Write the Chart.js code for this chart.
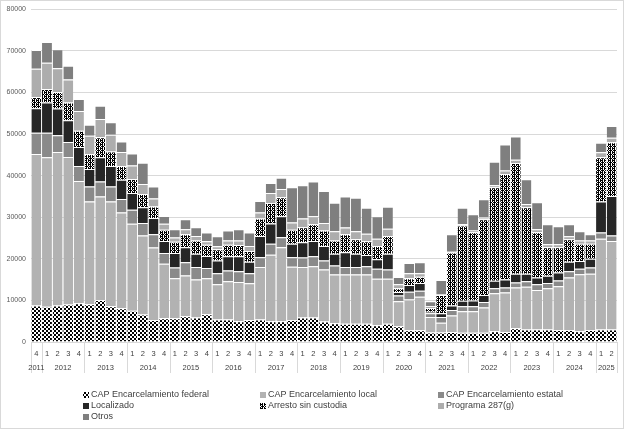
<!DOCTYPE html>
<html lang="es">
<head>
<meta charset="UTF-8">
<title>Detenciones por tipo de arresto</title>
<style>
    body { margin: 0; background: #fff; }
    .chart-box { width: 624px; height: 429px; position: relative; }
</style>
</head>
<body>
<div class="chart-box"><canvas id="myChart"></canvas></div>

<script src="https://cdn.jsdelivr.net/npm/chart.js"></script>
<script>
// trimestre de cada barra y su año
var quarters = ['4',
    '1','2','3','4', '1','2','3','4', '1','2','3','4', '1','2','3','4',
    '1','2','3','4', '1','2','3','4', '1','2','3','4', '1','2','3','4',
    '1','2','3','4', '1','2','3','4', '1','2','3','4', '1','2','3','4',
    '1','2','3','4', '1','2'];
var years = ['2011',
    '2012','2012','2012','2012', '2013','2013','2013','2013', '2014','2014','2014','2014',
    '2015','2015','2015','2015', '2016','2016','2016','2016', '2017','2017','2017','2017',
    '2018','2018','2018','2018', '2019','2019','2019','2019', '2020','2020','2020','2020',
    '2021','2021','2021','2021', '2022','2022','2022','2022', '2023','2023','2023','2023',
    '2024','2024','2024','2024', '2025','2025'];

var capFederal = [8800,
    8500,8800,9000,9300, 9100,10100,8600,8100, 7500,6600,5300,5700,
    5700,6200,5900,6700, 5400,5400,5000,5300, 5400,5000,5000,5300,
    5900,5900,4900,4500, 4400,4400,4400,4000, 4400,3800,2800,2800,
    2300,2300,2400,2200, 2200,2200,2600,2400, 3300,3000,3000,3000,
    2900,2900,2600,2900, 3000,3000];
var capLocal = [36400,
    35900,36900,35500,29400, 24700,24900,25200,23000, 20900,19000,17400,13100,
    9600,9800,9100,8600, 8500,9200,9400,8800, 12600,16000,17800,12800,
    12100,12300,12500,11700, 11800,11800,11800,11200, 10800,6000,7400,8100,
    3700,2300,4000,5200, 5200,6100,9100,9500, 9800,10300,9500,9900,
    10500,12600,13700,13500, 21800,21300];
var capEstatal = [5100,
    5900,4000,3600,3600, 3600,3600,3600,3300, 3400,3000,3200,2600,
    2600,3200,3000,2500, 2600,2600,2600,2400, 2400,2600,2400,2300,
    2300,2400,2200,2200, 1800,1800,2000,2400, 2200,1400,1900,1400,
    900,1400,1300,1200, 1200,1300,1200,1200, 1200,1300,1400,1300,
    1400,1500,1300,1500, 1500,1300];
var localizado = [5900,
    7300,6400,5200,4600, 4200,5800,4900,4600, 4000,3800,3900,2900,
    3500,3600,3200,2900, 3100,3400,3600,2800, 5100,4900,5000,3200,
    3700,3700,3500,2800, 3600,3200,2700,2300, 3800,800,1600,1900,
    400,900,1100,1300, 1400,1700,1800,1900, 2100,1800,1600,1700,
    1900,2300,1900,2100, 7500,9500];
var arrestoSinCustodia = [2700,
    3200,4000,4300,3900, 3600,4800,3500,3300, 3400,3200,2800,2700,
    2700,3100,3200,2700, 2700,2800,2700,2600, 4200,4900,4600,3400,
    3600,4000,3700,3200, 4300,3500,3300,3200, 4300,900,1600,1500,
    900,4400,12700,18100, 16400,18200,22500,25400, 26600,16000,10900,6900,
    6100,5400,4100,3600, 10600,12900];
var programa287g = [6800,
    6300,5700,5500,4700, 4400,4400,4000,3400, 3200,2400,1900,1400,
    1000,1200,1100,800, 700,1000,1100,1200, 1400,2400,2000,1700,
    2100,1900,1800,2200, 1600,1900,1800,1700, 1700,1000,1200,800,
    400,100,200,300, 400,400,500,800, 800,800,700,700,
    700,700,800,800, 1200,1100];
var otros = [4500,
    5000,4600,3300,2900, 2600,3200,3000,2500, 2900,5100,2900,1900,
    2000,2400,2100,2100, 2400,2400,2700,3200, 2800,2400,2700,8500,
    8000,8400,7700,6900, 7500,8100,6300,5400, 5300,1700,2500,2700,
    1200,3500,4200,4000, 3900,4400,5600,6300, 5600,5900,6500,4800,
    4300,2900,2200,1500, 2300,2800];

var yTicks = [0, 10000, 20000, 30000, 40000, 50000, 60000, 70000, 80000];

// tramas blanco y negro como en Excel
function makePattern(rows) {
    var c = document.createElement('canvas');
    c.width = rows[0].length;
    c.height = rows.length;
    var g = c.getContext('2d');
    g.fillStyle = '#ffffff';
    g.fillRect(0, 0, c.width, c.height);
    g.fillStyle = '#000000';
    rows.forEach(function(r, y) {
        for (var x = 0; x < r.length; x++) {
            if (r[x] === 'x') g.fillRect(x, y, 1, 1);
        }
    });
    return g.createPattern(c, 'repeat');
}
var federalFill = makePattern(['xx..', 'xx..', '..xx', '..xx']);
var arrestoFill = makePattern(['xxx.', 'x.x.', '.xxx', 'x.x.']);

var series = [
    { label: 'CAP Encarcelamiento federal', data: capFederal, color: federalFill },
    { label: 'CAP Encarcelamiento local', data: capLocal, color: '#b2b2b2' },
    { label: 'CAP Encarcelamiento estatal', data: capEstatal, color: '#8a8a8a' },
    { label: 'Localizado', data: localizado, color: '#262626' },
    { label: 'Arresto sin custodia', data: arrestoSinCustodia, color: arrestoFill },
    { label: 'Programa 287(g)', data: programa287g, color: '#adadad' },
    { label: 'Otros', data: otros, color: '#7f7f7f' }
];

// años bajo los trimestres + separadores + leyenda
var extrasPlugin = {
    id: 'extras',
    afterDraw: function(chart) {
        var ctx = chart.ctx;
        var xs = chart.scales.x;
        var bottom = chart.chartArea.bottom;
        var half = (xs.getPixelForValue(1) - xs.getPixelForValue(0)) / 2;

        // grupos de años
        var groups = [];
        var start = 0;
        for (var i = 1; i <= years.length; i++) {
            if (i === years.length || years[i] !== years[start]) {
                groups.push({
                    label: years[start],
                    x0: xs.getPixelForValue(start) - half,
                    x1: xs.getPixelForValue(i - 1) + half
                });
                start = i;
            }
        }

        ctx.save();
        ctx.strokeStyle = '#d9d9d9';
        ctx.lineWidth = 1;
        var edges = groups.map(function(g) { return g.x0; });
        edges.push(groups[groups.length - 1].x1);
        edges.forEach(function(x) {
            ctx.beginPath();
            ctx.moveTo(Math.round(x) + 0.5, bottom);
            ctx.lineTo(Math.round(x) + 0.5, bottom + 31);
            ctx.stroke();
        });

        ctx.fillStyle = '#404040';
        ctx.font = '7.5px "Liberation Sans", Arial, sans-serif';
        ctx.textAlign = 'center';
        ctx.textBaseline = 'middle';
        groups.forEach(function(g) {
            ctx.fillText(g.label, (g.x0 + g.x1) / 2, bottom + 26);
        });

        // leyenda en tres columnas
        var cols = [83, 260, 438];
        var rows = [395, 406, 417];
        ctx.font = '9px "Liberation Sans", Arial, sans-serif';
        ctx.textAlign = 'left';
        series.forEach(function(s, k) {
            var cx = cols[k % 3];
            var cy = rows[Math.floor(k / 3)];
            ctx.fillStyle = s.color;
            ctx.fillRect(cx, cy - 3, 6, 6);
            ctx.fillStyle = '#404040';
            ctx.fillText(s.label, cx + 8, cy);
        });

        // marco del gráfico
        ctx.strokeStyle = '#d9d9d9';
        ctx.strokeRect(0.5, 0.5, chart.width - 1, chart.height - 1);
        ctx.restore();
    }
};

var ctx = document.getElementById('myChart').getContext('2d');
new Chart(ctx, {
    type: 'bar',
    data: {
        labels: quarters,
        datasets: series.map(function(s) {
            return {
                label: s.label,
                data: s.data,
                backgroundColor: s.color,
                borderColor: '#ffffff',
                borderWidth: { top: 1, bottom: 0, left: 0, right: 0 },
                borderSkipped: false,
                categoryPercentage: 0.93,
                barPercentage: 1
            };
        })
    },
    options: {
        responsive: true,
        maintainAspectRatio: false,
        animation: false,
        layout: { padding: { top: 8, right: 7, left: 0, bottom: 0 } },
        plugins: {
            legend: { display: false },
            tooltip: { enabled: false }
        },
        scales: {
            x: {
                stacked: true,
                grid: { display: false, drawTicks: false },
                border: { display: false },
                ticks: {
                    autoSkip: false,
                    maxRotation: 0,
                    padding: 7,
                    color: '#404040',
                    font: { family: '"Liberation Sans", Arial, sans-serif', size: 7.5 }
                },
                afterFit: function(scale) { scale.height = 87; }
            },
            y: {
                stacked: true,
                min: 0,
                max: 80000,
                afterBuildTicks: function(scale) {
                    scale.ticks = yTicks.map(function(v) { return { value: v }; });
                },
                grid: { color: '#d9d9d9', drawTicks: false },
                border: { display: false },
                ticks: {
                    padding: 5,
                    color: '#595959',
                    font: { family: '"Liberation Sans", Arial, sans-serif', size: 7 },
                    callback: function(v) { return String(v); }
                },
                afterFit: function(scale) { scale.width = 31; }
            }
        }
    },
    plugins: [extrasPlugin]
});
</script>
</body>
</html>
